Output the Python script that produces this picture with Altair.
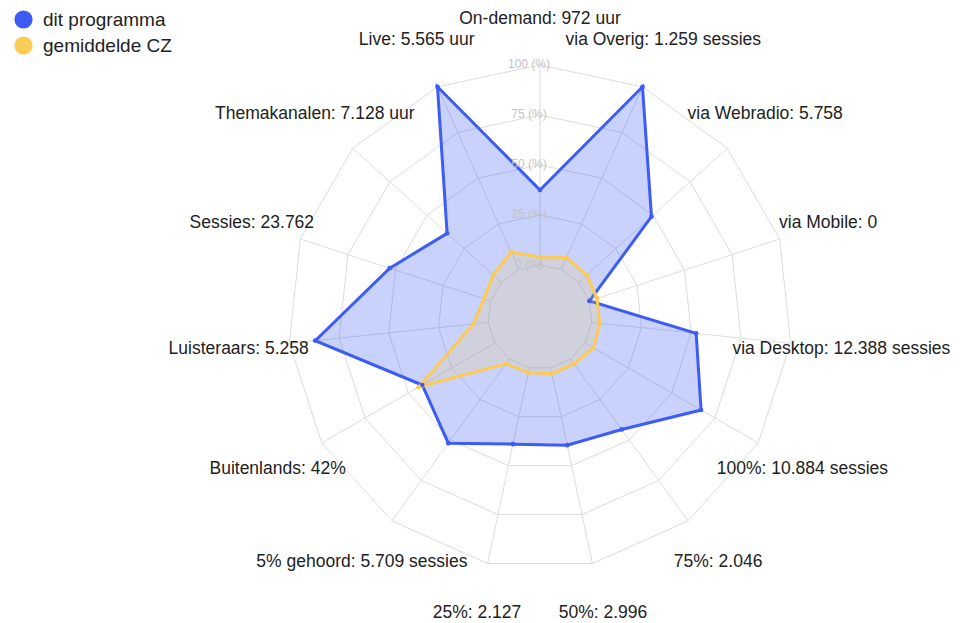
import altair as alt
import pandas as pd

# ---------------- data ----------------
AXES = [
    "On-demand: 972 uur", "via Overig: 1.259 sessies", "via Webradio: 5.758",
    "via Mobile: 0", "via Desktop: 12.388 sessies", "100%: 10.884 sessies",
    "75%: 2.046", "50%: 2.996", "25%: 2.127", "5% gehoord: 5.709 sessies",
    "Buitenlands: 42%", "Luisteraars: 5.258", "Sessies: 23.762",
    "Themakanalen: 7.128 uur", "Live: 5.565 uur",
]
PROGRAMMA = [37.5, 100, 49, 0, 52.5, 67, 43.5, 39.5, 39, 52, 42, 87, 53, 36.5, 100]
GEMIDDELD = [4, 6.5, 5.5, 4, 4, 5, 3, 3, 2.5, 3, 44, 7.5, 3.5, 5.5, 9.5]
SERIES = ["dit programma", "gemiddelde CZ"]
TICKS = [0, 25, 50, 75, 100]
TICK_LABELS = ["0 (%)", "25 (%)", "50 (%)", "75 (%)", "100 (%)"]

# ---------------- layout / style ----------------
N = len(AXES)
R_OUT = 252      # px radius of the 100 ring
RMIN = -26       # radial scale minimum (0 ring sits off-centre)
LABEL_R = 303    # px radius of the category labels
LABEL_TOP = 298  # keep the top label inside the drawing
BLUE = "#3d5cf5"
YELLOW = "#fbcb55"
FONT = "Liberation Sans"

xs = alt.Scale(domain=[-532, 425], nice=False, zero=False)
ys = alt.Scale(domain=[-306, 309], nice=False, zero=False)
X = alt.X("x:Q", scale=xs, axis=None)
Y = alt.Y("y:Q", scale=ys, axis=None)


def polar(chart, field="value", radius=None):
    chart = chart.transform_calculate(ang=f"datum.idx * 2 * PI / {N}")
    if radius is None:
        chart = chart.transform_calculate(
            r=f"{R_OUT} * (datum.{field} - ({RMIN})) / (100 - ({RMIN}))")
    else:
        chart = chart.transform_calculate(r=f"{radius}")
    return chart.transform_calculate(
        x="datum.r * sin(datum.ang)", y="datum.r * cos(datum.ang)")


series_df = pd.DataFrame({
    "idx": list(range(N)) * 2,
    "value": PROGRAMMA + GEMIDDELD,
    "series": [SERIES[0]] * N + [SERIES[1]] * N,
})
ring_df = pd.DataFrame([{"idx": i, "value": t, "ring": t} for t in TICKS for i in range(N)])
spoke_df = pd.DataFrame({"idx": list(range(N)), "v0": [TICKS[0]] * N, "v1": [TICKS[-1]] * N})
label_df = pd.DataFrame({"idx": list(range(N)), "label": AXES})
tick_df = pd.DataFrame({"idx": [0] * len(TICKS), "value": TICKS, "text": TICK_LABELS})

# grid rings
rings = polar(alt.Chart(ring_df)).mark_line(
    interpolate="linear-closed", color="#dcdcdc", strokeWidth=1
).encode(x=X, y=Y, detail="ring:N", order="idx:Q")

# spokes
spokes = alt.Chart(spoke_df).transform_calculate(
    ang=f"datum.idx * 2 * PI / {N}",
    r0=f"{R_OUT} * (datum.v0 - ({RMIN})) / (100 - ({RMIN}))",
    r1=f"{R_OUT} * (datum.v1 - ({RMIN})) / (100 - ({RMIN}))",
).transform_calculate(
    x="datum.r0 * sin(datum.ang)", y="datum.r0 * cos(datum.ang)",
    x2="datum.r1 * sin(datum.ang)", y2="datum.r1 * cos(datum.ang)",
).mark_rule(color="#dcdcdc", strokeWidth=1).encode(x=X, y=Y, x2="x2:Q", y2="y2:Q")


def polygon(name, color, fill_opacity, width):
    return polar(alt.Chart(series_df).transform_filter(
        alt.datum.series == name)).mark_line(
        interpolate="linear-closed", color=color, fill=color,
        fillOpacity=fill_opacity, strokeWidth=width, strokeJoin="miter"
    ).encode(x=X, y=Y, order="idx:Q")


poly_blue = polygon(SERIES[0], BLUE, 0.28, 3)
poly_yellow = polygon(SERIES[1], YELLOW, 0.18, 3)

points = polar(alt.Chart(series_df)).mark_point(
    filled=True, shape="circle", size=22, opacity=1
).encode(
    x=X, y=Y,
    color=alt.Color(
        "series:N",
        scale=alt.Scale(domain=SERIES, range=[BLUE, YELLOW]),
        legend=alt.Legend(
            title=None, orient="none", legendX=6, legendY=2, padding=0,
            symbolType="circle", symbolSize=330, symbolStrokeWidth=0,
            symbolOpacity=1, labelFontSize=19, labelFont=FONT,
            labelColor="#222", labelOffset=10, rowPadding=6,
        ),
    ),
)

tick_text = polar(alt.Chart(tick_df)).mark_text(
    font=FONT, fontSize=12, color="#c4c4c4", align="center", baseline="middle", dx=-11, dy=-1
).encode(x=X, y=Y, text="text:N")

labels = polar(alt.Chart(label_df), radius=LABEL_R).transform_calculate(
    y=f"min(datum.y, {LABEL_TOP})"
).mark_text(
    font=FONT, fontSize=17.5, color="#222", align="center", baseline="middle"
).encode(x=X, y=Y, text="label:N")

chart = alt.layer(
    rings, spokes, poly_blue, poly_yellow, points, tick_text, labels
).properties(
    width=957, height=615, autosize=alt.AutoSizeParams(type="none"), padding=0
).configure_view(stroke=None)

chart.save("out.html", embed_options={"renderer": "svg", "actions": False})
